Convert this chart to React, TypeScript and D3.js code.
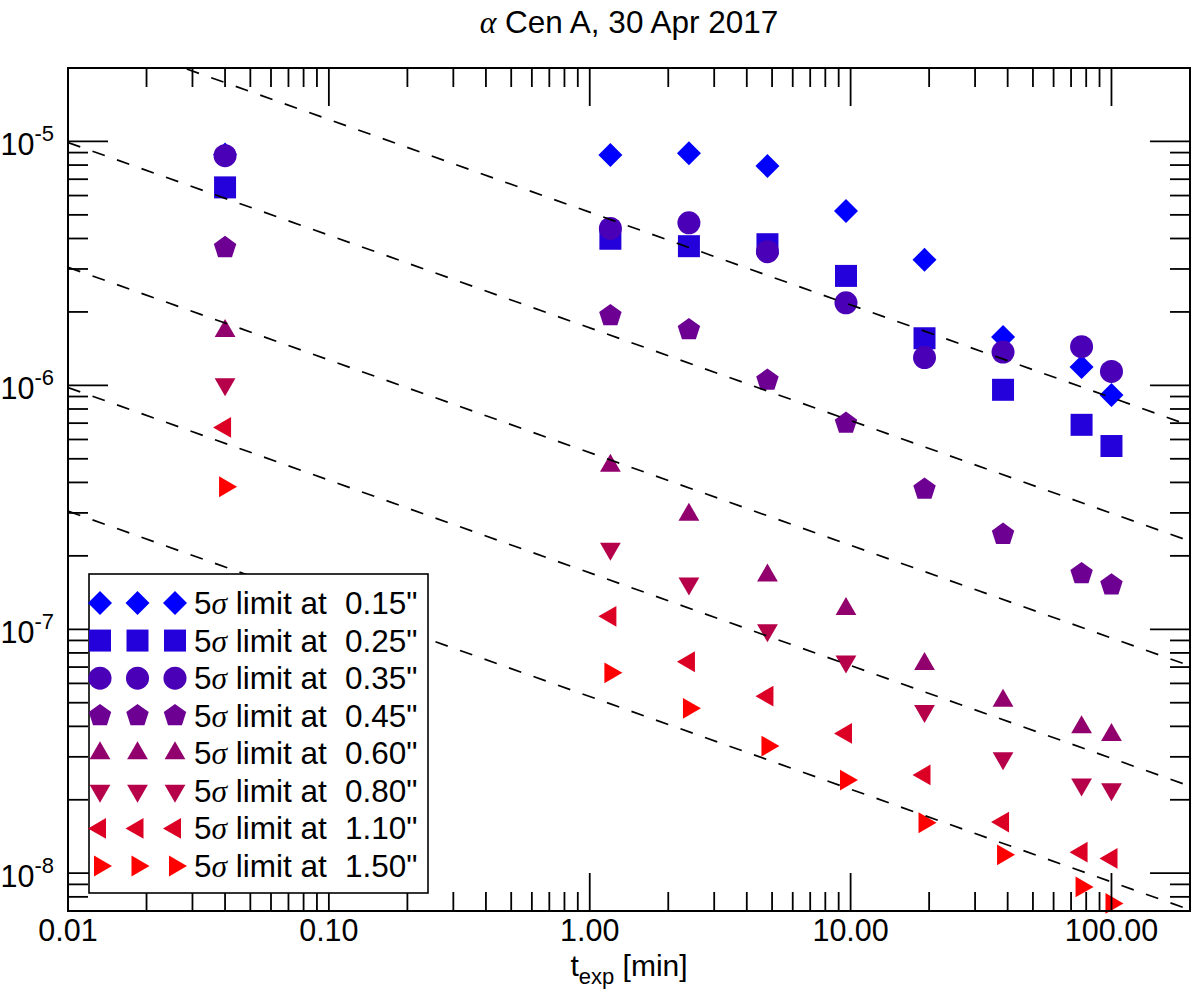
import React from "react";
import * as d3 from "d3";

// ---------- data ----------
const times = [0.04, 1.2, 2.4, 4.8, 9.6, 19.2, 38.4, 76.8, 100];
const separations = ["0.15", "0.25", "0.35", "0.45", "0.60", "0.80", "1.10", "1.50"];
const lim015 = [8.83e-6, 8.8e-6, 8.94e-6, 7.93e-6, 5.19e-6, 3.27e-6, 1.58e-6, 1.19e-6, 9.13e-7];
const lim025 = [6.48e-6, 3.99e-6, 3.72e-6, 3.79e-6, 2.81e-6, 1.56e-6, 9.59e-7, 6.89e-7, 5.64e-7];
const lim035 = [8.74e-6, 4.4e-6, 4.64e-6, 3.53e-6, 2.18e-6, 1.3e-6, 1.37e-6, 1.44e-6, 1.14e-6];
const lim045 = [3.67e-6, 1.93e-6, 1.69e-6, 1.05e-6, 6.99e-7, 3.75e-7, 2.45e-7, 1.69e-7, 1.52e-7];
const lim060 = [1.67e-6, 4.68e-7, 2.95e-7, 1.66e-7, 1.21e-7, 7.2e-8, 5.09e-8, 3.97e-8, 3.69e-8];
const lim080 = [1.01e-6, 2.14e-7, 1.54e-7, 9.9e-8, 7.38e-8, 4.62e-8, 2.96e-8, 2.31e-8, 2.21e-8];
const lim110 = [6.72e-7, 1.13e-7, 7.36e-8, 5.32e-8, 3.74e-8, 2.53e-8, 1.62e-8, 1.22e-8, 1.15e-8];
const lim150 = [3.84e-7, 6.63e-8, 4.74e-8, 3.32e-8, 2.41e-8, 1.61e-8, 1.19e-8, 8.79e-9, 7.52e-9];
const seriesValues = [lim015, lim025, lim035, lim045, lim060, lim080, lim110, lim150];
const colors = ["#0000FF", "#2400DB", "#4900B6", "#6D0092", "#92006D", "#B60049", "#DB0024", "#FF0000"];
const shapes = ["diamond", "square", "circle", "pentagon", "triUp", "triDown", "triLeft", "triRight"];

// dashed reference lines: level at t = 0.01 and power-law slope
const refLevels = [2.95e-5, 9.9e-6, 3.05e-6, 9.8e-7, 3.05e-7];
const refT0 = 0.01;
const refSlope = -0.38;

const xMajor = [0.01, 0.1, 1, 10, 100];
const xTickLabels = ["0.01", "0.10", "1.00", "10.00", "100.00"];
const yMajor = [1e-5, 1e-6, 1e-7, 1e-8];
const yTickExps = ["-5", "-6", "-7", "-8"];

const title = "Cen A, 30 Apr 2017";

// ---------- layout ----------
const W = 1200;
const H = 996;
const L = 68, R = 1190, T = 68, B = 911;
const FONT = "'Liberation Sans', Arial, Helvetica, sans-serif";
const SERIF = "'Liberation Serif', 'Times New Roman', serif";
const FS = 31.5;
const FS_TICK = 30.5;
const FS_SMALL = 22;

const x = d3.scaleLog().domain([0.01, 200]).range([L, R]);
const y = d3.scaleLog().domain([7e-9, 2e-5]).range([B, T]);

function poly(pts: [number, number][]) {
  return "M" + pts.map((p) => p[0].toFixed(2) + "," + p[1].toFixed(2)).join("L") + "Z";
}
function regular(n: number, r: number, startDeg: number) {
  const pts: [number, number][] = [];
  for (let i = 0; i < n; i++) {
    const a = ((startDeg + (360 / n) * i) * Math.PI) / 180;
    pts.push([r * Math.cos(a), r * Math.sin(a)]);
  }
  return poly(pts);
}
function shapePath(kind: string): string {
  switch (kind) {
    case "diamond":
      return regular(4, 12, -90);
    case "square":
      return poly([[-11, -11], [11, -11], [11, 11], [-11, 11]]);
    case "circle": {
      const p = d3.path();
      p.arc(0, 0, 11.5, 0, Math.PI * 2);
      p.closePath();
      return p.toString();
    }
    case "pentagon":
      return regular(5, 11.8, -90);
    case "triUp":
      return regular(3, 12, -90);
    case "triDown":
      return regular(3, 12, 90);
    case "triLeft":
      return regular(3, 12, 180);
    case "triRight":
      return regular(3, 12, 0);
  }
  return "";
}

function minorTicks(lo: number, hi: number): number[] {
  const out: number[] = [];
  for (let e = -10; e <= 4; e++) {
    for (let k = 2; k <= 9; k++) {
      const v = k * Math.pow(10, e);
      if (v > lo * 1.0001 && v < hi * 0.9999) out.push(v);
    }
  }
  return out;
}

export default function App() {
  const xd = x.domain();
  const yd = y.domain();
  const xMinor = minorTicks(xd[0], xd[1]);
  const yMinor = minorTicks(yd[0], yd[1]);

  const legendTop = 603;
  const legendStep = 37.57;
  const legendMarkX = [100, 137.5, 175];

  return (
    <svg
      width={W}
      height={H}
      viewBox={`0 0 ${W} ${H}`}
      style={{ position: "absolute", left: 0, top: 0, background: "#fff" }}
      fontFamily={FONT}
    >
      <defs>
        <clipPath id="plotclip">
          <rect x={L} y={T} width={R - L} height={B - T} />
        </clipPath>
      </defs>
      <rect x={0} y={0} width={W} height={H} fill="#fff" />

      {/* title */}
      <text x={(L + R) / 2} y={33} textAnchor="middle" fontSize={FS} fill="#000">
        <tspan fontFamily={SERIF} fontStyle="italic">α</tspan>
        <tspan> {title}</tspan>
      </text>

      {/* markers */}
      <g>
        {seriesValues.map((vals, si) => (
          <g key={si} fill={colors[si]}>
            {vals.map((v, i) => (
              <path
                key={i}
                d={shapePath(shapes[si])}
                transform={`translate(${x(times[i]).toFixed(2)},${y(v).toFixed(2)})`}
              />
            ))}
          </g>
        ))}
      </g>

      {/* dashed reference lines */}
      <g clipPath="url(#plotclip)" fill="none" stroke="#000" strokeWidth={1.7} strokeDasharray="13,13">
        {refLevels.map((lev, i) => {
          const f = (t: number) => lev * Math.pow(t / refT0, refSlope);
          const gen = d3
            .line<number>()
            .x((t) => x(t))
            .y((t) => y(f(t)));
          return <path key={i} d={gen([xd[0], xd[1]]) || ""} strokeDashoffset={i === 0 ? 4 : 0} />;
        })}
      </g>

      {/* axes frame */}
      <rect x={L} y={T} width={R - L} height={B - T} fill="none" stroke="#000" strokeWidth={2} />

      {/* ticks */}
      <g stroke="#000" strokeWidth={1.8}>
        {xMajor.map((t, i) => (
          <g key={"xm" + i}>
            <line x1={x(t)} x2={x(t)} y1={B} y2={B - 38} />
            <line x1={x(t)} x2={x(t)} y1={T} y2={T + 38} />
          </g>
        ))}
        {xMinor.map((t, i) => (
          <g key={"xn" + i}>
            <line x1={x(t)} x2={x(t)} y1={B} y2={B - 19} />
            <line x1={x(t)} x2={x(t)} y1={T} y2={T + 19} />
          </g>
        ))}
        {yMajor.map((v, i) => (
          <g key={"ym" + i}>
            <line x1={L} x2={L + 40} y1={y(v)} y2={y(v)} />
            <line x1={R} x2={R - 40} y1={y(v)} y2={y(v)} />
          </g>
        ))}
        {yMinor.map((v, i) => (
          <g key={"yn" + i}>
            <line x1={L} x2={L + 20} y1={y(v)} y2={y(v)} />
            <line x1={R} x2={R - 20} y1={y(v)} y2={y(v)} />
          </g>
        ))}
      </g>

      {/* x tick labels */}
      <g fontSize={FS_TICK} fill="#000" textAnchor="middle">
        {xMajor.map((t, i) => (
          <text key={i} x={x(t)} y={941}>
            {xTickLabels[i]}
          </text>
        ))}
      </g>

      {/* y tick labels */}
      <g fill="#000" textAnchor="end">
        {yMajor.map((v, i) => (
          <text key={i} x={54} y={y(v) + 14} fontSize={FS_TICK}>
            10
            <tspan dy={-14} fontSize={FS_SMALL}>
              {yTickExps[i]}
            </tspan>
          </text>
        ))}
      </g>

      {/* x axis label */}
      <text x={(L + R) / 2} y={976} textAnchor="middle" fontSize={30} fill="#000">
        t
        <tspan dy={8} fontSize={FS_SMALL}>exp</tspan>
        <tspan dy={-8}> [min]</tspan>
      </text>

      {/* legend */}
      <rect x={89} y={574} width={339} height={319} fill="#fff" stroke="#000" strokeWidth={1.6} />
      {separations.map((sep, si) => {
        const ry = legendTop + si * legendStep;
        return (
          <g key={si}>
            {legendMarkX.map((mx, k) => (
              <path key={k} d={shapePath(shapes[si])} fill={colors[si]} transform={`translate(${mx},${ry})`} />
            ))}
            <text x={194} y={ry + 11} fontSize={FS} fill="#000">
              5<tspan fontFamily={SERIF} fontStyle="italic">σ</tspan>
              <tspan> limit at</tspan>
            </text>
            <text x={345} y={ry + 11} fontSize={FS} fill="#000">
              {sep + '"'}
            </text>
          </g>
        );
      })}
    </svg>
  );
}
